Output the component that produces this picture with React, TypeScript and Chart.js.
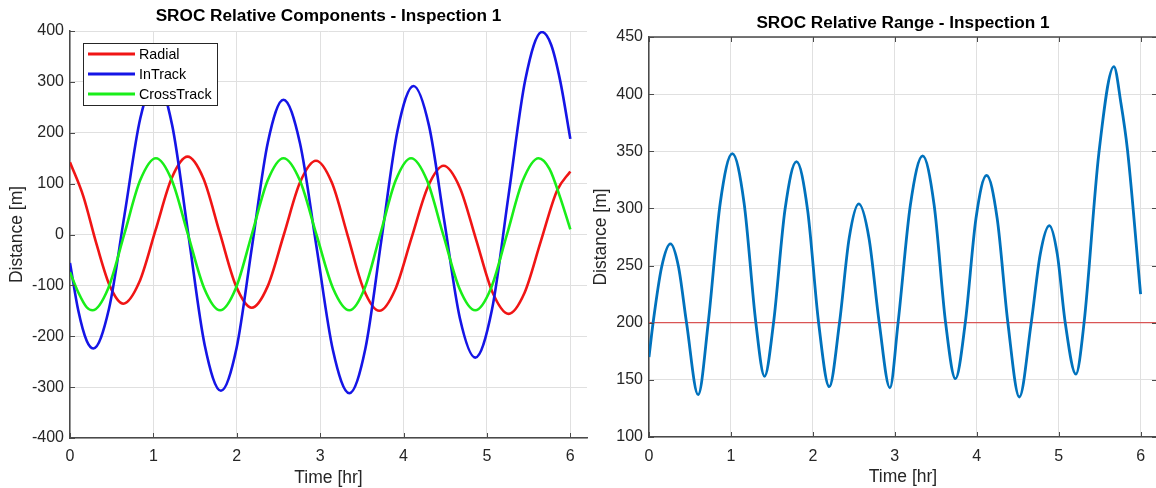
import React, { useEffect, useRef } from 'react';
import { Chart, registerables } from 'chart.js';

Chart.register(...registerables);

const FONT = '"Liberation Sans", Arial, Helvetica, sans-serif';

// ---- shared x ticks (hours) ----
const timeTicks = [0, 1, 2, 3, 4, 5, 6];

// ---- left chart: relative components ----
const seriesNames = ['Radial', 'InTrack', 'CrossTrack'];
const seriesColors = ['#f01515', '#1515e6', '#19ee19'];

const radialT = [0, 0.16, 0.32, 0.48, 0.64, 0.83, 1.025, 1.22, 1.41, 1.6, 1.795, 1.99, 2.18, 2.37, 2.565, 2.76, 2.95, 3.14, 3.33, 3.52, 3.71, 3.9, 4.095, 4.29, 4.48, 4.675, 4.87, 5.065, 5.26, 5.45, 5.645, 5.84, 6.0];
const radialV = [142, 75, -20, -102, -136, -94, 8, 111, 153, 110, 4, -101, -144, -102, 0, 103, 145, 102, -2, -107, -150, -108, -7, 93, 135, 92, -10, -113, -156, -115, -14, 86, 124];

const intrackT = [0, 0.1, 0.2, 0.28, 0.4675, 0.655, 0.8425, 1.03, 1.225, 1.42, 1.615, 1.81, 1.9975, 2.185, 2.3725, 2.56, 2.7575, 2.955, 3.1525, 3.35, 3.5425, 3.735, 3.9275, 4.12, 4.305, 4.49, 4.675, 4.86, 5.06, 5.26, 5.46, 5.66, 5.77, 5.88, 6.0];
const intrackV = [-56, -150, -209, -224, -146, 40, 228, 305, 215, -1, -217, -307, -223, -21, 181, 265, 180, -23, -227, -312, -224, -10, 204, 292, 214, 25, -164, -242, -148, 78, 304, 398, 373, 301, 188];

const crossT = [0, 0.1, 0.2, 0.27, 0.46, 0.65, 0.84, 1.03, 1.2225, 1.415, 1.6075, 1.8, 1.99, 2.18, 2.37, 2.56, 2.7575, 2.955, 3.1525, 3.35, 3.535, 3.72, 3.905, 4.09, 4.2825, 4.475, 4.6675, 4.86, 5.05, 5.24, 5.43, 5.62, 5.75, 5.88, 6.0];
const crossV = [-74, -114, -143, -149, -105, 0, 106, 150, 106, 0, -105, -149, -105, 0, 106, 150, 106, 0, -105, -149, -105, 0, 106, 150, 106, 0, -105, -149, -105, 0, 106, 150, 129, 72, 10];

// ---- right chart: relative range ----
const rangeT = [0, 0.05, 0.155, 0.262, 0.36, 0.458, 0.6, 0.723, 0.87, 1.017, 1.16, 1.304, 1.41, 1.52, 1.66, 1.8, 1.935, 2.07, 2.2, 2.325, 2.443, 2.56, 2.685, 2.81, 2.94, 3.04, 3.19, 3.34, 3.48, 3.62, 3.74, 3.86, 3.99, 4.12, 4.25, 4.38, 4.52, 4.665, 4.775, 4.886, 4.983, 5.08, 5.21, 5.31, 5.49, 5.674, 5.76, 5.84, 6.0];
const rangeV = [170, 200, 249, 269, 249, 200, 137, 200, 305, 348, 305, 200, 153, 200, 299, 341, 299, 200, 144, 200, 274, 304, 274, 200, 143, 200, 303, 346, 303, 200, 151, 200, 291, 329, 291, 200, 135, 200, 260, 285, 260, 200, 155, 200, 348, 424, 392, 351, 225];
const thresholdValue = 200;

const X_MAX = 6.2;
const AXIS_COLOR = '#4a4a4a';
const GRID_COLOR = '#e0e0e0';
const TEXT_COLOR = '#262626';

const toPts = (t: number[], v: number[]) => t.map((x, i) => ({ x, y: v[i] }));

const framePlugin = {
  id: 'matlabFrame',
  afterDraw(chart: any, _args: any, opts: any) {
    const { ctx, chartArea: a, scales } = chart;
    ctx.save();
    // title
    ctx.fillStyle = '#000';
    ctx.font = `bold 17.2px ${FONT}`;
    ctx.textAlign = 'center';
    ctx.textBaseline = 'middle';
    ctx.fillText(opts.title, (a.left + a.right) / 2, opts.titleY);
    // inward ticks
    ctx.strokeStyle = AXIS_COLOR;
    ctx.lineWidth = 1;
    const L = 5;
    ctx.beginPath();
    for (const t of scales.x.ticks) {
      const px = Math.round(scales.x.getPixelForValue(t.value)) + 0.5;
      ctx.moveTo(px, a.bottom);
      ctx.lineTo(px, a.bottom - L);
      if (opts.box) {
        ctx.moveTo(px, a.top);
        ctx.lineTo(px, a.top + L);
      }
    }
    for (const t of scales.y.ticks) {
      const py = Math.round(scales.y.getPixelForValue(t.value)) + 0.5;
      ctx.moveTo(a.left, py);
      ctx.lineTo(a.left + L, py);
      if (opts.box) {
        ctx.moveTo(a.right, py);
        ctx.lineTo(a.right - L, py);
      }
    }
    ctx.stroke();
    if (opts.box) {
      ctx.lineWidth = 1.5;
      ctx.beginPath();
      ctx.moveTo(a.left, a.top);
      ctx.lineTo(a.right, a.top);
      ctx.lineTo(a.right, a.bottom);
      ctx.stroke();
    }
    ctx.restore();
  },
};

const legendPlugin = {
  id: 'insideLegend',
  afterDatasetsDraw(chart: any, _args: any, opts: any) {
    if (!opts || !opts.show) return;
    const { ctx, chartArea: a } = chart;
    const bx = a.left + 13;
    const by = a.top + 12;
    const bw = 134;
    const bh = 62;
    ctx.save();
    ctx.fillStyle = '#fff';
    ctx.fillRect(bx, by, bw, bh);
    ctx.strokeStyle = '#262626';
    ctx.lineWidth = 1;
    ctx.strokeRect(bx + 0.5, by + 0.5, bw, bh);
    ctx.font = `14.3px ${FONT}`;
    ctx.textBaseline = 'middle';
    ctx.textAlign = 'left';
    seriesNames.forEach((name, i) => {
      const y = by + 11 + i * 20;
      ctx.strokeStyle = seriesColors[i];
      ctx.lineWidth = 3;
      ctx.beginPath();
      ctx.moveTo(bx + 5, y);
      ctx.lineTo(bx + 52, y);
      ctx.stroke();
      ctx.fillStyle = '#000';
      ctx.fillText(name, bx + 56, y + 1);
    });
    ctx.restore();
  },
};

function xScale(padTick: number, titlePadBottom: number, height: number) {
  return {
    type: 'linear' as const,
    min: 0,
    max: X_MAX,
    afterBuildTicks: (axis: any) => {
      axis.ticks = timeTicks.map((v) => ({ value: v }));
    },
    afterFit: (s: any) => {
      s.height = height;
    },
    grid: { color: GRID_COLOR, lineWidth: 1, drawTicks: false },
    border: { display: true, color: AXIS_COLOR, width: 1.5 },
    ticks: {
      font: { family: FONT, size: 16 },
      color: TEXT_COLOR,
      padding: padTick,
      maxRotation: 0,
      autoSkip: false,
    },
    title: {
      display: true,
      text: 'Time [hr]',
      font: { family: FONT, size: 17.5 },
      color: TEXT_COLOR,
      padding: { top: 0, bottom: titlePadBottom },
    },
  };
}

function yScale(min: number, max: number, step: number, width: number, titlePadTop: number) {
  return {
    type: 'linear' as const,
    min,
    max,
    afterFit: (s: any) => {
      s.width = width;
    },
    grid: { color: GRID_COLOR, lineWidth: 1, drawTicks: false },
    border: { display: true, color: AXIS_COLOR, width: 1.5 },
    ticks: {
      stepSize: step,
      font: { family: FONT, size: 16 },
      color: TEXT_COLOR,
      padding: 6,
    },
    title: {
      display: true,
      text: 'Distance [m]',
      font: { family: FONT, size: 17.5 },
      color: TEXT_COLOR,
      padding: { top: titlePadTop, bottom: 0 },
    },
  };
}

export default function App() {
  const leftRef = useRef<HTMLCanvasElement>(null);
  const rightRef = useRef<HTMLCanvasElement>(null);

  useEffect(() => {
    const lineDs = (label: string, t: number[], v: number[], color: string, order: number, width = 2.6) => ({
      label,
      data: toPts(t, v),
      borderColor: color,
      backgroundColor: color,
      borderWidth: width,
      pointRadius: 0,
      fill: false,
      cubicInterpolationMode: 'monotone' as const,
      order,
    });

    const left = new Chart(leftRef.current!, {
      type: 'line',
      data: {
        datasets: [
          lineDs(seriesNames[0], radialT, radialV, seriesColors[0], 2),
          lineDs(seriesNames[1], intrackT, intrackV, seriesColors[1], 1),
          lineDs(seriesNames[2], crossT, crossV, seriesColors[2], 0),
        ],
      },
      options: {
        animation: false,
        responsive: false,
        maintainAspectRatio: false,
        layout: { padding: { top: 31, right: 3, bottom: 0, left: 0 } },
        scales: {
          x: xScale(9, -1, 50),
          y: yScale(-400, 400, 100, 70, 7),
        },
        plugins: {
          legend: { display: false },
          tooltip: { enabled: false },
          matlabFrame: { title: 'SROC Relative Components - Inspection 1', titleY: 16.5, box: false },
          insideLegend: { show: true },
        } as any,
      },
      plugins: [framePlugin, legendPlugin],
    });

    const right = new Chart(rightRef.current!, {
      type: 'line',
      data: {
        datasets: [
          lineDs('Range', rangeT, rangeV, '#0072BD', 0, 2.8),
          {
            label: 'Threshold',
            data: [
              { x: 0, y: thresholdValue },
              { x: X_MAX, y: thresholdValue },
            ],
            borderColor: '#d95555',
            borderWidth: 1.3,
            pointRadius: 0,
            fill: false,
            order: 1,
          },
        ],
      },
      options: {
        animation: false,
        responsive: false,
        maintainAspectRatio: false,
        layout: { padding: { top: 37, right: 3, bottom: 0, left: 0 } },
        scales: {
          x: xScale(10, 0, 51),
          y: yScale(100, 450, 50, 69, 11),
        },
        plugins: {
          legend: { display: false },
          tooltip: { enabled: false },
          matlabFrame: { title: 'SROC Relative Range - Inspection 1', titleY: 23.5, box: true },
          insideLegend: { show: false },
        } as any,
      },
      plugins: [framePlugin, legendPlugin],
    });

    return () => {
      left.destroy();
      right.destroy();
    };
  }, []);

  return (
    <div
      style={{
        position: 'fixed',
        left: 0,
        top: 0,
        width: 1156,
        height: 488,
        overflow: 'hidden',
        background: '#fff',
      }}
    >
      <canvas ref={leftRef} width={590} height={488} style={{ position: 'absolute', left: 0, top: 0 }} />
      <canvas ref={rightRef} width={580} height={488} style={{ position: 'absolute', left: 580, top: 0 }} />
    </div>
  );
}
